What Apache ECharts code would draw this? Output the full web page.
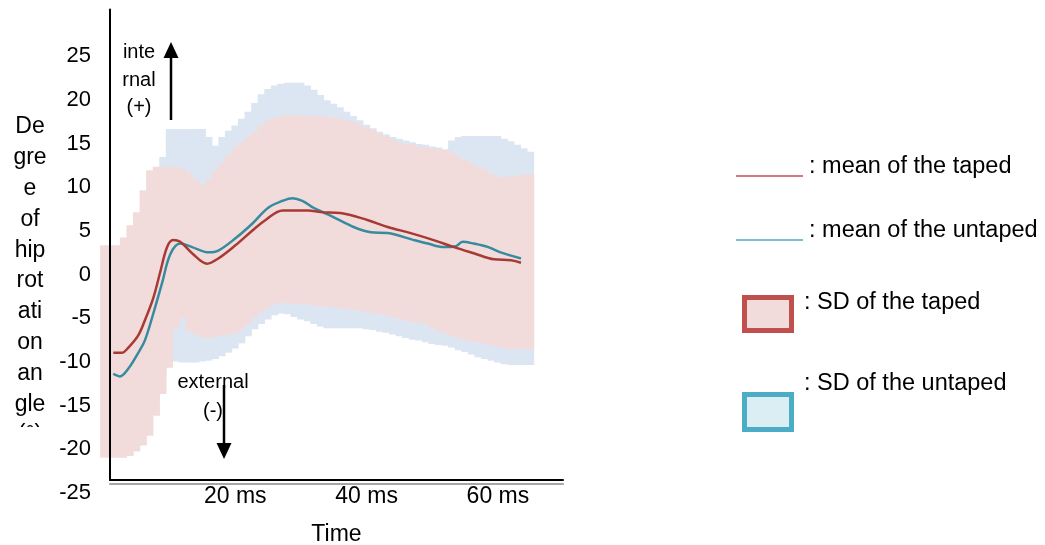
<!DOCTYPE html>
<html>
<head>
<meta charset="utf-8">
<script src="https://cdn.jsdelivr.net/npm/echarts@6/dist/echarts.min.js"></script>
<style>
  html, body { margin: 0; padding: 0; background: #ffffff; }
  #chart { width: 1045px; height: 545px; }
</style>
</head>
<body>
<div id="chart"></div>
<script>
// Hip rotation angle (degrees) over time (ms): means and SD bands, taped vs untaped.

// SD bands, one column per millisecond
const bandTime = [-1,0,1,2,3,4,5,6,7,8,9,10,11,12,13,14,15,16,17,18,19,20,21,22,23,24,25,26,27,28,29,30,31,32,33,34,35,36,37,38,39,40,41,42,43,44,45,46,47,48,49,50,51,52,53,54,55,56,57,58,59,60,61,62,63,64];
const tapedSdHigh = [3.0,3.0,3.0,3.9,5.3,6.8,9.3,11.6,12.0,12.0,12.0,12.0,11.8,11.3,10.6,9.9,10.6,11.6,12.4,13.3,14.2,14.8,15.4,16.0,16.7,17.3,17.6,17.8,17.9,17.9,17.9,17.9,17.8,17.8,17.7,17.6,17.5,17.3,17.1,16.8,16.5,16.2,15.8,15.5,15.1,14.8,14.6,14.5,14.3,14.2,14.1,14.0,13.9,13.6,13.2,12.8,12.4,12.0,11.7,11.2,10.8,10.8,10.9,11.0,11.1,11.1];
const tapedSdLow = [-21.3,-21.3,-21.3,-21.3,-21.1,-20.6,-19.9,-18.8,-16.5,-14.0,-11.0,-6.4,-5.3,-6.8,-7.2,-7.5,-7.6,-7.5,-7.3,-7.2,-7.1,-6.6,-6.0,-5.3,-4.7,-4.1,-3.8,-3.6,-3.6,-3.7,-3.7,-3.8,-3.9,-4.0,-4.0,-4.1,-4.2,-4.3,-4.4,-4.5,-4.6,-4.8,-4.9,-5.0,-5.2,-5.4,-5.6,-5.8,-5.9,-6.0,-6.4,-6.8,-7.1,-7.4,-7.6,-7.8,-8.0,-8.1,-8.3,-8.4,-8.6,-8.8,-8.9,-8.9,-8.9,-8.9];

const untapedBandTime = [8,9,10,11,12,13,14,15,16,17,18,19,20,21,22,23,24,25,26,27,28,29,30,31,32,33,34,35,36,37,38,39,40,41,42,43,44,45,46,47,48,49,50,51,52,53,54,55,56,57,58,59,60,61,62,63,64];
const untapedSdHigh = [13.1,16.3,16.3,16.3,16.3,16.3,16.3,15.4,14.4,15.4,16.1,16.7,17.5,18.3,19.3,20.3,20.9,21.3,21.5,21.6,21.6,21.6,21.3,20.8,20.2,19.6,19.2,18.8,18.3,17.8,17.3,16.8,16.4,16.0,15.7,15.4,15.2,15.0,14.8,14.6,14.5,14.3,14.2,14.0,15.0,15.4,15.5,15.5,15.5,15.5,15.5,15.5,15.2,14.9,14.5,14.1,13.7];
const untapedSdLow = [-12.0,-10.3,-10.3,-10.4,-10.4,-10.4,-10.3,-10.2,-10.0,-9.7,-9.3,-8.8,-8.2,-7.4,-6.6,-6.0,-5.5,-5.0,-4.8,-4.9,-5.2,-5.5,-5.7,-6.0,-6.3,-6.5,-6.5,-6.5,-6.5,-6.5,-6.5,-6.6,-6.7,-6.9,-7.0,-7.2,-7.4,-7.6,-7.8,-7.9,-8.1,-8.3,-8.4,-8.5,-8.7,-9.0,-9.2,-9.5,-9.8,-10.0,-10.2,-10.4,-10.6,-10.7,-10.7,-10.7,-10.7];

// Mean curves
const tapedTime = [0.5,1.8,2.8,4.3,5.3,6.6,7.6,8.7,9.6,10.7,12.5,14.8,16.5,19.1,21.7,23.7,26.3,30.2,32.1,35.1,39.2,42.3,45.8,49.3,52.4,55.4,58.5,61.1,62.6];
const tapedMean = [-9.3,-9.3,-8.7,-7.3,-5.6,-3.0,-0.2,2.8,3.6,3.4,2.1,0.9,1.5,3.0,4.7,5.9,7.0,7.0,6.8,6.7,5.9,5.1,4.4,3.6,2.8,2.1,1.4,1.3,1.0];
const untapedTime = [0.5,1.5,2.8,4.3,5.3,6.6,7.9,9.2,10.7,12.5,15.0,16.5,19.1,21.7,24.1,26.3,27.8,29.3,31.0,32.4,34.1,37.1,39.7,42.3,46.3,48.4,50.8,52.7,53.7,55.4,57.6,59.5,62.6];
const untapedMean = [-11.7,-12.0,-11.1,-9.3,-7.9,-4.8,-1.4,2.0,3.2,2.8,2.2,2.4,3.8,5.5,7.3,8.1,8.4,8.1,7.3,6.8,6.2,5.1,4.5,4.4,3.6,3.2,2.8,2.9,3.4,3.2,2.8,2.2,1.5];

// Axis ticks and texts
const timeTicks = [20, 40, 60];
const timeUnit = ' ms';
const yTitleLines = ['De','gre','e','of','hip','rot','ati','on','an','gle','(°)'];
const legendItems = [': mean of the taped', ': mean of the untaped', ': SD of the taped', ': SD of the untaped'];

const FONT = '"Liberation Sans", Arial, sans-serif';
const COLORS = {
  tapedBand: '#f2dcdb',
  untapedBand: '#dce6f2',
  tapedLine: '#a83a35',
  untapedLine: '#378b9f',
  legendRed: '#c0504d',
  legendBlue: '#4bacc6',
  legendRedFill: '#f2dcdb',
  legendBlueFill: '#dbeef3'
};

function bandData(times, lows, highs) {
  return times.map((t, i) => [t, lows[i], highs[i]]);
}
function lineData(times, values) {
  return times.map((t, i) => [t, values[i]]);
}
function bandRenderer(color) {
  return function (params, api) {
    const t = api.value(0);
    const lo = api.value(1);
    const hi = api.value(2);
    const a = api.coord([t - 0.5, hi]);
    const b = api.coord([t + 0.5, lo]);
    return {
      type: 'rect',
      shape: { x: a[0], y: a[1], width: b[0] - a[0] + 0.7, height: b[1] - a[1] },
      style: { fill: color }
    };
  };
}

const chart = echarts.init(document.getElementById('chart'), null, { renderer: 'canvas' });

const gridLeft = 110, gridRight = 482, gridTop = 9.4;
const gridBase = { left: gridLeft, right: gridRight, containLabel: false, outerBoundsMode: 'none' };

chart.setOption({
  animation: false,
  backgroundColor: '#ffffff',
  grid: [
    Object.assign({}, gridBase, { top: gridTop, bottom: 55 }),          // data area
    Object.assign({}, gridBase, { top: gridTop, bottom: 65 }),          // black axis frame
    Object.assign({}, gridBase, { top: gridTop, bottom: 61 }),          // grey under-rule with time labels
    Object.assign({}, gridBase, { top: gridTop + 3, bottom: 52 })       // degree scale labels
  ],
  xAxis: [
    {
      type: 'value', gridIndex: 0, min: 0, max: 69, show: false,
      axisLine: { onZero: false }, splitLine: { show: false }
    },
    {
      type: 'value', gridIndex: 1, min: 0, max: 69, z: 10,
      axisLine: { show: true, onZero: false, lineStyle: { color: '#000', width: 2 } },
      axisTick: { show: false }, axisLabel: { show: false }, splitLine: { show: false }
    },
    {
      type: 'value', gridIndex: 2, min: 0, max: 69, interval: 20, z: 9,
      axisLine: { show: true, onZero: false, lineStyle: { color: '#a6a6a6', width: 2 } },
      axisTick: { show: false },
      splitLine: { show: false },
      axisLabel: {
        margin: 1,
        color: '#000',
        fontFamily: FONT,
        fontSize: 23,
        padding: [0, 12, 0, 0],
        formatter: v => timeTicks.indexOf(v) >= 0 ? v + timeUnit : ''
      },
      name: 'Time',
      nameLocation: 'middle',
      nameGap: 39,
      nameTextStyle: { color: '#000', fontFamily: FONT, fontSize: 23 }
    },
    {
      type: 'value', gridIndex: 3, min: 0, max: 69, show: false,
      axisLine: { onZero: false }, splitLine: { show: false }
    }
  ],
  yAxis: [
    {
      type: 'value', gridIndex: 0, min: -25, max: 30, interval: 5, show: false,
      axisLine: { onZero: false }, splitLine: { show: false }
    },
    {
      type: 'value', gridIndex: 1, min: -24, max: 30, z: 10,
      axisLine: { show: true, onZero: false, lineStyle: { color: '#000', width: 2 } },
      axisTick: { show: false }, axisLabel: { show: false }, splitLine: { show: false }
    },
    {
      type: 'value', gridIndex: 2, min: -24, max: 30, show: false,
      axisLine: { onZero: false }, splitLine: { show: false }
    },
    {
      type: 'value', gridIndex: 3, min: -25, max: 30, interval: 5,
      axisLine: { show: false, onZero: false },
      axisTick: { show: false },
      splitLine: { show: false },
      axisLabel: {
        margin: 19,
        color: '#000',
        fontFamily: FONT,
        fontSize: 22,
        padding: [11, 0, 0, 0],
        formatter: v => (v > 25 ? '' : String(v))
      }
    }
  ],
  series: [
    {
      name: 'SD of the untaped',
      type: 'custom',
      xAxisIndex: 0, yAxisIndex: 0,
      z: 1,
      encode: { x: 0, y: [1, 2] },
      renderItem: bandRenderer(COLORS.untapedBand),
      data: bandData(untapedBandTime, untapedSdLow, untapedSdHigh)
    },
    {
      name: 'SD of the taped',
      type: 'custom',
      xAxisIndex: 0, yAxisIndex: 0,
      z: 2,
      encode: { x: 0, y: [1, 2] },
      renderItem: bandRenderer(COLORS.tapedBand),
      data: bandData(bandTime, tapedSdLow, tapedSdHigh)
    },
    {
      name: 'mean of the untaped',
      type: 'line',
      xAxisIndex: 0, yAxisIndex: 0,
      z: 3,
      showSymbol: false,
      smooth: 0.35,
      lineStyle: { color: COLORS.untapedLine, width: 2.5 },
      data: lineData(untapedTime, untapedMean)
    },
    {
      name: 'mean of the taped',
      type: 'line',
      xAxisIndex: 0, yAxisIndex: 0,
      z: 4,
      showSymbol: false,
      smooth: 0.35,
      lineStyle: { color: COLORS.tapedLine, width: 2.5 },
      data: lineData(tapedTime, tapedMean)
    }
  ],
  graphic: [
    // vertical axis title, wrapped in a narrow column
    {
      type: 'text', z: 20,
      style: {
        text: yTitleLines.join('\n'),
        x: 30, y: 111.6,
        textAlign: 'center', textVerticalAlign: 'top',
        lineHeight: 30.8,
        fill: '#000', fontFamily: FONT, fontSize: 23
      }
    },
    { type: 'rect', z: 21, shape: { x: 0, y: 427, width: 58, height: 60 }, style: { fill: '#ffffff' } },

    // direction annotations
    {
      type: 'text', z: 20,
      style: {
        text: 'inte\nrnal\n(+)', x: 139, y: 39,
        textAlign: 'center', textVerticalAlign: 'top', lineHeight: 27.5,
        fill: '#000', fontFamily: FONT, fontSize: 20
      }
    },
    { type: 'line', z: 22, shape: { x1: 171, y1: 120, x2: 171, y2: 56 }, style: { stroke: '#000', lineWidth: 2.5 } },
    { type: 'polygon', z: 22, shape: { points: [[163.5, 58], [178.5, 58], [171, 42]] }, style: { fill: '#000' } },
    {
      type: 'text', z: 20,
      style: {
        text: 'external\n(-)', x: 213, y: 368,
        textAlign: 'center', textVerticalAlign: 'top', lineHeight: 29,
        fill: '#000', fontFamily: FONT, fontSize: 20
      }
    },
    { type: 'line', z: 22, shape: { x1: 224, y1: 385, x2: 224, y2: 445 }, style: { stroke: '#000', lineWidth: 2.5 } },
    { type: 'polygon', z: 22, shape: { points: [[216.5, 443], [231.5, 443], [224, 459]] }, style: { fill: '#000' } },

    // legend
    { type: 'line', z: 20, shape: { x1: 736, y1: 176, x2: 803, y2: 176 }, style: { stroke: COLORS.legendRed, lineWidth: 1.5 } },
    { type: 'text', z: 20, style: { text: legendItems[0], x: 809, y: 167, textAlign: 'left', textVerticalAlign: 'middle', fill: '#000', fontFamily: FONT, fontSize: 23.5 } },
    { type: 'line', z: 20, shape: { x1: 736, y1: 240, x2: 803, y2: 240 }, style: { stroke: COLORS.legendBlue, lineWidth: 1.5 } },
    { type: 'text', z: 20, style: { text: legendItems[1], x: 809, y: 231, textAlign: 'left', textVerticalAlign: 'middle', fill: '#000', fontFamily: FONT, fontSize: 23.5 } },
    { type: 'rect', z: 20, shape: { x: 744.5, y: 297.5, width: 47, height: 33 }, style: { fill: COLORS.legendRedFill, stroke: COLORS.legendRed, lineWidth: 5 } },
    { type: 'text', z: 20, style: { text: legendItems[2], x: 804, y: 303, textAlign: 'left', textVerticalAlign: 'middle', fill: '#000', fontFamily: FONT, fontSize: 23.5 } },
    { type: 'rect', z: 20, shape: { x: 744.5, y: 394.5, width: 47, height: 35 }, style: { fill: COLORS.legendBlueFill, stroke: COLORS.legendBlue, lineWidth: 5 } },
    { type: 'text', z: 20, style: { text: legendItems[3], x: 804, y: 384, textAlign: 'left', textVerticalAlign: 'middle', fill: '#000', fontFamily: FONT, fontSize: 23.5 } }
  ]
});
</script>
</body>
</html>
